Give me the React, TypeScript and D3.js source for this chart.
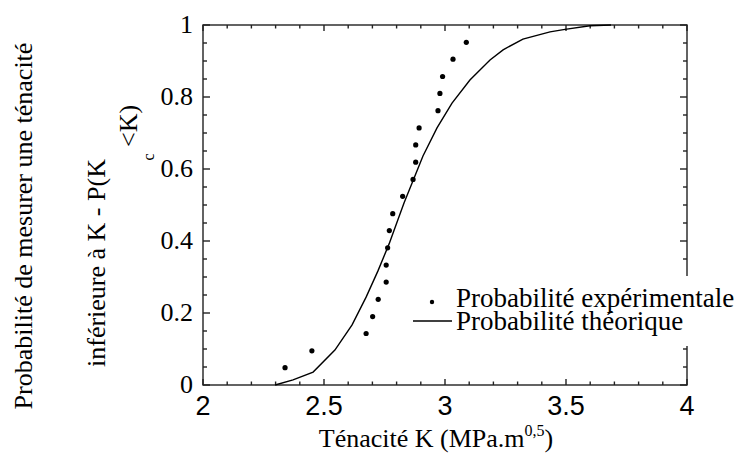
import React from "react";
import * as d3 from "d3";

// Experimental points: toughness K (MPa.m^0.5) and cumulative probability
const expK = [2.339, 2.450, 2.674, 2.701, 2.724, 2.757, 2.757, 2.763, 2.770, 2.784,
  2.825, 2.868, 2.879, 2.879, 2.893, 2.971, 2.979, 2.990, 3.033, 3.088];
const expP = [0.048, 0.095, 0.143, 0.190, 0.238, 0.286, 0.333, 0.381, 0.429, 0.476,
  0.524, 0.571, 0.619, 0.667, 0.714, 0.762, 0.810, 0.857, 0.905, 0.952];

// Theoretical curve
const theoK = [2.298, 2.372, 2.455, 2.545, 2.616, 2.674, 2.723, 2.769, 2.802, 2.831,
  2.864, 2.909, 2.967, 3.029, 3.103, 3.186, 3.240, 3.322, 3.434, 3.496, 3.599, 3.686];
const theoP = [0.0, 0.014, 0.036, 0.097, 0.167, 0.244, 0.317, 0.392, 0.453, 0.506,
  0.561, 0.636, 0.714, 0.783, 0.847, 0.903, 0.931, 0.961, 0.981, 0.988, 0.998, 1.0];

const xTicks = [2, 2.5, 3, 3.5, 4];
const xTickLabels = ["2", "2.5", "3", "3.5", "4"];
const yTicks = [0, 0.2, 0.4, 0.6, 0.8, 1];
const yTickLabels = ["0", "0.2", "0.4", "0.6", "0.8", "1"];

const legendLabels = ["Probabilité expérimentale", "Probabilité théorique"];

const SERIF = "Liberation Serif";
const SANS = "Liberation Sans";

export default function App() {
  const W = 736, H = 456;
  const x = d3.scaleLinear().domain([2, 4]).range([203, 687]);
  const y = d3.scaleLinear().domain([0, 1]).range([385, 25]);
  const [x0, x1] = x.range();
  const [yb, yt] = y.range();

  const theo: [number, number][] = theoK.map((k, i) => [k, theoP[i]]);
  const linePath = d3.line<[number, number]>().x(d => x(d[0])).y(d => y(d[1]))(theo) || "";

  const xMinor = d3.range(20, 41).map(v => v / 10).filter(v => !xTicks.some(t => Math.abs(t - v) < 1e-9));
  const yMinor = d3.range(0, 21).map(v => v / 20).filter(v => !yTicks.some(t => Math.abs(t - v) < 1e-9));

  const stroke = "#222";
  const sw = 1.4;
  const xMaj = 6, xMin = 3.5, yMaj = 7, yMin = 4;
  const serif = { fontFamily: SERIF };
  const sans = { fontFamily: SANS };

  return (
    <svg width={W} height={H} style={{ position: "absolute", left: 0, top: 0, background: "#fff" }}>
      <rect x={0} y={0} width={W} height={H} fill="#fff" />
      {/* ticks */}
      <g stroke={stroke} strokeWidth={sw}>
        {xTicks.map(t => (
          <g key={"xt" + t}>
            <line x1={x(t)} x2={x(t)} y1={yb} y2={yb - xMaj} />
            <line x1={x(t)} x2={x(t)} y1={yt} y2={yt + xMaj} />
          </g>
        ))}
        {xMinor.map(t => (
          <g key={"xm" + t}>
            <line x1={x(t)} x2={x(t)} y1={yb} y2={yb - xMin} />
            <line x1={x(t)} x2={x(t)} y1={yt} y2={yt + xMin} />
          </g>
        ))}
        {yTicks.map(t => (
          <g key={"yt" + t}>
            <line x1={x0} x2={x0 + yMaj} y1={y(t)} y2={y(t)} />
            <line x1={x1} x2={x1 - yMaj} y1={y(t)} y2={y(t)} />
          </g>
        ))}
        {yMinor.map(t => (
          <g key={"ym" + t}>
            <line x1={x0} x2={x0 + yMin} y1={y(t)} y2={y(t)} />
            <line x1={x1} x2={x1 - yMin} y1={y(t)} y2={y(t)} />
          </g>
        ))}
        <rect x={x0} y={yt} width={x1 - x0} height={yb - yt} fill="none" />
      </g>

      {/* theoretical line */}
      <path d={linePath} fill="none" stroke="#000" strokeWidth={1.4} />
      {/* experimental points */}
      {expK.map((k, i) => (
        <circle key={"p" + i} cx={x(k)} cy={y(expP[i])} r={2.6} fill="#000" />
      ))}

      {/* tick labels */}
      {yTicks.map((t, i) => (
        <text key={"yl" + t} x={193} y={y(t) + 8} textAnchor="end" style={serif} fontSize={26} fill="#000">
          {yTickLabels[i]}
        </text>
      ))}
      {xTicks.map((t, i) => (
        <text key={"xl" + t} x={x(t)} y={415} textAnchor="middle" style={sans} fontSize={27} fill="#000">
          {xTickLabels[i]}
        </text>
      ))}

      {/* x title */}
      <text x={436} y={447} textAnchor="middle" style={serif} fontSize={26} fill="#000">
        Ténacité K (MPa.m<tspan fontSize={16} dy={-11}>0,5</tspan><tspan dy={11}>)</tspan>
      </text>

      {/* y title */}
      <text transform="translate(32,226) rotate(-90)" textAnchor="middle" style={serif} fontSize={26} fill="#000">
        Probabilité de mesurer une ténacité
      </text>
      <text transform="translate(105,367) rotate(-90)" textAnchor="start" style={serif} fontSize={26} fill="#000">
        inférieure à K - P(K
      </text>
      <text transform="translate(137,147) rotate(-90)" textAnchor="start" style={serif} fontSize={26} fill="#000">
        &lt;K)
      </text>
      <text transform="translate(154,157) rotate(-90)" textAnchor="middle" style={serif} fontSize={16} fill="#000">
        c
      </text>

      {/* legend */}
      <rect x={402} y={276} width={292} height={70} fill="#fff" />
      <circle cx={432} cy={302} r={2.2} fill="#000" />
      <line x1={413} x2={452} y1={321} y2={321} stroke="#000" strokeWidth={1.3} />
      <text x={456} y={307} style={serif} fontSize={27} fill="#000">{legendLabels[0]}</text>
      <text x={456} y={330} style={serif} fontSize={27} fill="#000">{legendLabels[1]}</text>
    </svg>
  );
}
